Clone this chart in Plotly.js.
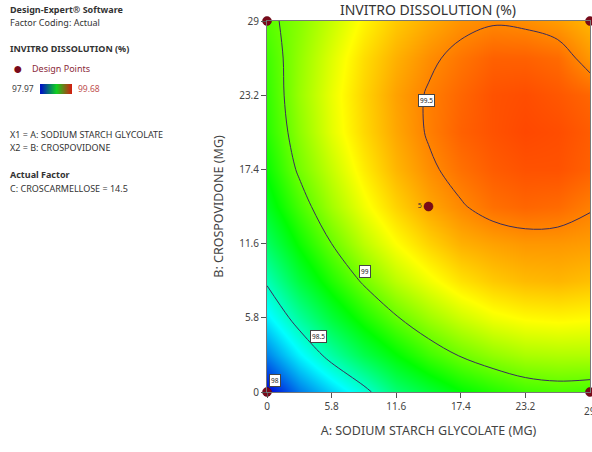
<!DOCTYPE html>
<html>
<head>
<meta charset="utf-8">
<script src="https://cdn.plot.ly/plotly-3.0.1.min.js"></script>
<style>html,body{margin:0;padding:0;background:#fff;}#chart{width:592px;height:452px;}</style>
</head>
<body>
<div id="chart"></div>
<script>
// A: Sodium starch glycolate (mg) grid
const xVals = [0, 2.9, 5.8, 8.7, 11.6, 14.5, 17.4, 20.3, 23.2, 26.1, 29];
// B: Crospovidone (mg) grid
const yVals = [0, 2.9, 5.8, 8.7, 11.6, 14.5, 17.4, 20.3, 23.2, 26.1, 29];
// In-vitro dissolution (%) estimated from the contour plot, rows = B, columns = A
const dissolution = [
  [97.97, 98.17, 98.32, 98.46, 98.63, 98.73, 98.82, 98.88, 98.93, 98.95, 98.94],
  [98.19, 98.38, 98.55, 98.70, 98.82, 98.93, 99.01, 99.07, 99.11, 99.12, 99.12],
  [98.37, 98.56, 98.73, 98.87, 98.99, 99.09, 99.17, 99.23, 99.26, 99.27, 99.26],
  [98.52, 98.72, 98.88, 99.02, 99.14, 99.23, 99.31, 99.36, 99.39, 99.40, 99.38],
  [98.66, 98.84, 99.00, 99.14, 99.25, 99.34, 99.41, 99.44, 99.46, 99.46, 99.45],
  [98.77, 98.94, 99.10, 99.23, 99.34, 99.43, 99.49, 99.54, 99.56, 99.55, 99.51],
  [98.84, 99.02, 99.16, 99.29, 99.40, 99.48, 99.54, 99.58, 99.60, 99.60, 99.57],
  [98.89, 99.06, 99.21, 99.33, 99.43, 99.51, 99.57, 99.60, 99.62, 99.61, 99.58],
  [98.91, 99.08, 99.22, 99.34, 99.44, 99.51, 99.56, 99.60, 99.61, 99.59, 99.56],
  [98.93, 99.07, 99.20, 99.32, 99.41, 99.48, 99.53, 99.57, 99.57, 99.55, 99.46],
  [98.97, 99.05, 99.16, 99.27, 99.36, 99.42, 99.47, 99.49, 99.48, 99.45, 99.40]
];
const zMin = 97.97, zMax = 99.68;
const tickValues = [0, 5.8, 11.6, 17.4, 23.2, 29];
const tickLabels = ['0', '5.8', '11.6', '17.4', '23.2', '29'];
// design points
const designA = [0, 0, 29, 29, 14.5];
const designB = [0, 29, 29, 0, 14.5];
const designText = ['', '', '', '', '5'];
// contour label annotations
const labelText = ['99.5', '99', '98.5', '98'];
const labelA = [14.3, 8.8, 4.6, 0.7];
const labelB = [22.8, 9.4, 4.3, 0.9];

const cscale = [[0, '#0000d8'], [0.25, '#00ffff'], [0.5, '#00ff00'], [0.75, '#ffff00'], [1, '#ff2a00']];
const FONT = 'Noto Sans, Open Sans, sans-serif';

const traces = [
  {
    type: 'contour', x: xVals, y: yVals, z: dissolution,
    zmin: zMin, zmax: zMax, colorscale: cscale, showscale: false,
    contours: {start: 98, end: 99.5, size: 0.5, coloring: 'heatmap', showlabels: false},
    line: {color: '#3a2c5c', width: 1, smoothing: 1},
    hoverinfo: 'skip'
  },
  {
    type: 'scatter', mode: 'markers+text', x: designA, y: designB, text: designText,
    textposition: 'middle left', textfont: {size: 7, color: '#333', family: FONT},
    marker: {size: 9, color: '#7a0a1a', line: {color: '#5a0010', width: 0.5}},
    cliponaxis: false, showlegend: false, hoverinfo: 'skip'
  },
  {
    type: 'heatmap', x: [0, 1, 2, 3, 4, 5, 6, 7, 8, 9, 10], y: [0],
    z: [[0, 0.1, 0.2, 0.3, 0.4, 0.5, 0.6, 0.7, 0.8, 0.9, 1]],
    zmin: 0, zmax: 1, colorscale: [[0, '#0018c0'], [0.5, '#10d020'], [1, '#d02010']],
    zsmooth: 'best', showscale: false, xaxis: 'x2', yaxis: 'y2', hoverinfo: 'skip'
  }
];

const PW = 590, PH = 371, TOP = 21;
function px(x) { return x / PW; }
function py(y) { return (392 - y) / PH; }
function leftText(text, x, y, opts) {
  return Object.assign({
    text: text, xref: 'paper', yref: 'paper', x: px(x), y: py(y),
    xanchor: 'left', yanchor: 'middle', showarrow: false,
    font: {family: FONT, size: 9, color: '#333'}
  }, opts || {});
}

const annotations = [
  leftText('<b>Design-Expert® Software</b>', 8, 9),
  leftText('Factor Coding: Actual', 8, 22),
  leftText('<b>INVITRO DISSOLUTION (%)</b>', 8, 49),
  leftText('●', 11, 68, {font: {family: FONT, size: 16, color: '#7a0a1a'}}),
  leftText('Design Points', 30, 68, {font: {family: FONT, size: 9, color: '#8b2a3a'}}),
  leftText('97.97', 10, 89, {font: {family: FONT, size: 8.5, color: '#444'}}),
  leftText('99.68', 76, 89, {font: {family: FONT, size: 8.5, color: '#c05050'}}),
  leftText('X1 = A: SODIUM STARCH GLYCOLATE', 8, 134),
  leftText('X2 = B: CROSPOVIDONE', 8, 147),
  leftText('<b>Actual Factor</b>', 8, 174),
  leftText('C: CROSCARMELLOSE = 14.5', 8, 188),
  // last x tick label, cut by the window edge as in the original
  {text: tickLabels[5], xref: 'x', yref: 'paper', x: tickValues[5], y: py(411), xanchor: 'center', yanchor: 'middle',
   showarrow: false, font: {family: FONT, size: 10, color: '#444'}}
];
labelText.forEach(function (t, i) {
  annotations.push({
    text: t, x: labelA[i], y: labelB[i], xref: 'x', yref: 'y', showarrow: false,
    font: {family: FONT, size: 6.5, color: '#222'}, bgcolor: '#ffffff',
    bordercolor: '#444', borderwidth: 1, borderpad: 1
  });
});

const layout = {
  width: 592, height: 452,
  margin: {l: 0, r: 2, t: TOP, b: 60},
  paper_bgcolor: '#ffffff', plot_bgcolor: '#ffffff',
  showlegend: false,
  font: {family: FONT, color: '#444'},
  title: {text: 'INVITRO DISSOLUTION (%)', font: {family: FONT, size: 14, color: '#333'},
          xref: 'paper', x: 428 / PW, xanchor: 'center', yref: 'container', y: 1 - 10 / 452, yanchor: 'middle'},
  xaxis: {
    domain: [267 / PW, 1], range: [0, 29], tickvals: tickValues.slice(0, 5), ticktext: tickLabels.slice(0, 5),
    ticks: 'outside', ticklen: 5, tickcolor: '#555', showgrid: false, zeroline: false,
    showline: true, linecolor: '#777', linewidth: 1, mirror: true,
    tickfont: {family: FONT, size: 10, color: '#444'},
    title: {text: 'A: SODIUM STARCH GLYCOLATE (MG)', font: {family: FONT, size: 12.5, color: '#444'}, standoff: 14}
  },
  yaxis: {
    range: [0, 29], tickvals: tickValues, ticktext: tickLabels,
    ticks: 'outside', ticklen: 5, tickcolor: '#555', showgrid: false, zeroline: false,
    showline: true, linecolor: '#777', linewidth: 1, mirror: true,
    tickfont: {family: FONT, size: 10, color: '#444'},
    title: {text: 'B: CROSPOVIDONE (MG)', font: {family: FONT, size: 12.5, color: '#444'}, standoff: 12}
  },
  xaxis2: {domain: [px(40), px(72)], anchor: 'y2', visible: false, fixedrange: true},
  yaxis2: {domain: [py(94), py(84)], anchor: 'x2', visible: false, fixedrange: true},
  annotations: annotations
};

Plotly.newPlot('chart', traces, layout, {displayModeBar: false, staticPlot: true});
</script>
</body>
</html>
